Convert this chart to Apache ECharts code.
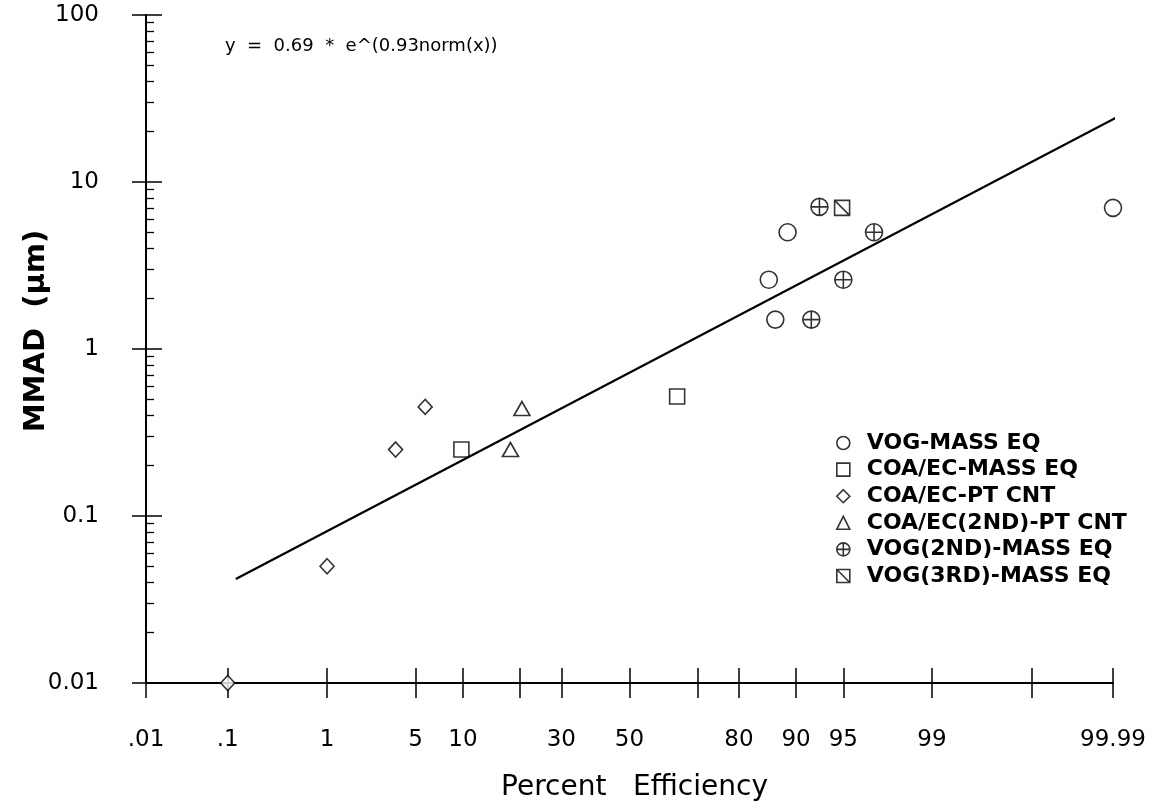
<!DOCTYPE html>
<html>
<head>
<meta charset="utf-8">
<title>MMAD vs Percent Efficiency</title>
<script src="https://cdn.jsdelivr.net/npm/echarts@6/dist/echarts.min.js"></script>
<style>
  html, body { margin: 0; padding: 0; background: #fff; }
  #chart { width: 1167px; height: 807px; }
</style>
</head>
<body>
<div id="chart"></div>
<script>
// tick marks / labels on the probability axis (percent)
const xTickPct = [0.01, 0.1, 1, 5, 10, 20, 30, 50, 70, 80, 90, 95, 99, 99.9, 99.99];
const xLabelPct = [0.01, 0.1, 1, 5, 10, 30, 50, 80, 90, 95, 99, 99.99];
const xLabelText = ['.01', '.1', '1', '5', '10', '30', '50', '80', '90', '95', '99', '99.99'];

// data: percent efficiency / MMAD (um)
const vogPct = [85.8, 86.9, 88.8, 99.99];
const vogMmad = [2.6, 1.5, 5.0, 7.0];
const coaMassPct = [9.8, 64.3];
const coaMassMmad = [0.25, 0.52];
const coaPtPct = [0.1, 1, 3.6, 5.8];
const coaPtMmad = [0.01, 0.05, 0.25, 0.45];
const coa2Pct = [18, 20.4];
const coa2Mmad = [0.25, 0.44];
const vog2Pct = [91.9, 92.8, 95, 97];
const vog2Mmad = [1.5, 7.1, 2.6, 5.0];
const vog3Pct = [94.9];
const vog3Mmad = [7.0];
// fitted line end points
const fitPct = [0.123, 99.992];
const fitMmad = [0.042, 25];

// inverse normal cdf (Acklam), used to place percent on the probability scale
function probit(p) {
  const a = [-3.969683028665376e+01, 2.209460984245205e+02, -2.759285104469687e+02, 1.383577518672690e+02, -3.066479806614716e+01, 2.506628277459239e+00];
  const b = [-5.447609879822406e+01, 1.615858368580409e+02, -1.556989798598866e+02, 6.680131188771972e+01, -1.328068155288572e+01];
  const c = [-7.784894002430293e-03, -3.223964580411365e-01, -2.400758277161838e+00, -2.549732539343734e+00, 4.374664141464968e+00, 2.938163982698783e+00];
  const d = [7.784695709041462e-03, 3.224671290700398e-01, 2.445134137142996e+00, 3.754408661907416e+00];
  const pl = 0.02425, ph = 1 - pl;
  let q, r;
  if (p < pl) {
    q = Math.sqrt(-2 * Math.log(p));
    return (((((c[0]*q+c[1])*q+c[2])*q+c[3])*q+c[4])*q+c[5]) / ((((d[0]*q+d[1])*q+d[2])*q+d[3])*q+1);
  }
  if (p > ph) {
    q = Math.sqrt(-2 * Math.log(1 - p));
    return -(((((c[0]*q+c[1])*q+c[2])*q+c[3])*q+c[4])*q+c[5]) / ((((d[0]*q+d[1])*q+d[2])*q+d[3])*q+1);
  }
  q = p - 0.5; r = q * q;
  return (((((a[0]*r+a[1])*r+a[2])*r+a[3])*r+a[4])*r+a[5])*q / (((((b[0]*r+b[1])*r+b[2])*r+b[3])*r+b[4])*r+1);
}
const z = pct => probit(pct / 100);
const pts = (xs, ys) => xs.map((x, i) => [z(x), ys[i]]);

const xMin = z(xTickPct[0]);
const xMax = z(xTickPct[xTickPct.length - 1]);
const xTicks = xTickPct.map(z);
const xLabels = xLabelPct.map(z);

// minor ticks for the log axis, in log10 units
const minorLog = [];
[-2, -1, 0, 1].forEach(function (dec) {
  for (let k = 2; k <= 9; k++) minorLog.push(dec + Math.log10(k));
});

const circlePlus = 'path://M0,-10 A10,10 0 1,1 0,10 A10,10 0 1,1 0,-10 Z M-10,0 L10,0 M0,-10 L0,10';
const boxSlash = 'path://M0,0 L20,0 L20,20 L0,20 Z M0,0 L20,20';

const WIDE = '"DejaVu Sans", "Liberation Sans", sans-serif';
const ink = '#000';
const markStyle = { color: '#fff', borderColor: ink, borderWidth: 1.6 };

const chart = echarts.init(document.getElementById('chart'));

const option = {
  backgroundColor: '#fff',
  animation: false,
  grid: { left: 146, right: 54, top: 15, bottom: 118 },
  xAxis: [
    {
      type: 'value', min: xMin, max: xMax,
      name: 'Percent   Efficiency', nameLocation: 'middle', nameGap: 91,
      nameTextStyle: { fontFamily: WIDE, fontSize: 28, color: ink, padding: [0, 0, 0, 10] },
      axisLine: { show: true, onZero: false, lineStyle: { color: ink, width: 2 } },
      axisTick: { show: true, inside: true, length: 15, customValues: xTicks, lineStyle: { color: ink, width: 1.5 } },
      axisLabel: {
        show: true, margin: 46, customValues: xLabels,
        fontFamily: WIDE, fontSize: 23, color: ink,
        formatter: function (v) {
          for (let i = 0; i < xLabels.length; i++) {
            if (Math.abs(xLabels[i] - v) < 1e-6) return xLabelText[i];
          }
          return '';
        }
      },
      splitLine: { show: false }
    },
    {
      // outer half of the crossing ticks
      type: 'value', min: xMin, max: xMax, position: 'bottom',
      axisLine: { show: false, onZero: false },
      axisTick: { show: true, inside: false, length: 15, customValues: xTicks, lineStyle: { color: ink, width: 1.5 } },
      axisLabel: { show: false },
      splitLine: { show: false }
    }
  ],
  yAxis: [
    {
      type: 'log', logBase: 10, min: 0.01, max: 100,
      axisLine: { show: true, onZero: false, lineStyle: { color: ink, width: 2 } },
      axisTick: { show: true, inside: true, length: 16, lineStyle: { color: ink, width: 1.5 } },
      axisLabel: { margin: 47, fontFamily: WIDE, fontSize: 23, color: ink },
      splitLine: { show: false }
    },
    {
      type: 'value', min: -2, max: 2, position: 'left',
      axisLine: { show: false, onZero: false },
      axisTick: { show: true, inside: false, length: 14, customValues: [-2, -1, 0, 1, 2], lineStyle: { color: ink, width: 1.5 } },
      axisLabel: { show: false },
      splitLine: { show: false }
    },
    {
      type: 'value', min: -2, max: 2, position: 'left',
      axisLine: { show: false, onZero: false },
      axisTick: { show: true, inside: true, length: 8, customValues: minorLog, lineStyle: { color: ink, width: 1.3 } },
      axisLabel: { show: false },
      splitLine: { show: false }
    }
  ],
  legend: {
    orient: 'vertical', left: 831, top: 427,
    itemWidth: 13, itemHeight: 13, itemGap: 4.6,
    data: ['VOG-MASS EQ', 'COA/EC-MASS EQ', 'COA/EC-PT CNT', 'COA/EC(2ND)-PT CNT', 'VOG(2ND)-MASS EQ', 'VOG(3RD)-MASS EQ'],
    itemStyle: { color: '#fff', borderColor: ink, borderWidth: 1.6 },
    textStyle: { fontFamily: WIDE, fontSize: 22, fontWeight: 'bold', color: ink, padding: [0, 0, 0, 12] }
  },
  graphic: [
    {
      type: 'text', left: 225, top: 37,
      style: { text: 'y  =  0.69  *  e^(0.93norm(x))', font: '18px ' + WIDE, fill: ink }
    },
    {
      type: 'text', x: 36, y: 331, rotation: Math.PI / 2,
      style: { text: 'MMAD  (μm)', font: 'bold 29px ' + WIDE, fill: ink, align: 'center', verticalAlign: 'middle' }
    }
  ],
  series: [
    {
      name: 'fit', type: 'line', data: pts(fitPct, fitMmad),
      showSymbol: false, symbol: 'none', silent: true,
      lineStyle: { color: ink, width: 2.3 }
    },
    { name: 'VOG-MASS EQ', type: 'scatter', symbol: 'circle', symbolSize: 17, itemStyle: markStyle, data: pts(vogPct, vogMmad) },
    { name: 'COA/EC-MASS EQ', type: 'scatter', symbol: 'rect', symbolSize: 15, itemStyle: markStyle, data: pts(coaMassPct, coaMassMmad) },
    { name: 'COA/EC-PT CNT', type: 'scatter', symbol: 'diamond', symbolSize: [14, 15], itemStyle: markStyle, data: pts(coaPtPct, coaPtMmad) },
    { name: 'COA/EC(2ND)-PT CNT', type: 'scatter', symbol: 'triangle', symbolSize: [16, 14], itemStyle: markStyle, data: pts(coa2Pct, coa2Mmad) },
    { name: 'VOG(2ND)-MASS EQ', type: 'scatter', symbol: circlePlus, symbolSize: 17, itemStyle: markStyle, data: pts(vog2Pct, vog2Mmad) },
    { name: 'VOG(3RD)-MASS EQ', type: 'scatter', symbol: boxSlash, symbolSize: 15, itemStyle: markStyle, data: pts(vog3Pct, vog3Mmad) }
  ]
};

chart.setOption(option);
</script>
</body>
</html>
